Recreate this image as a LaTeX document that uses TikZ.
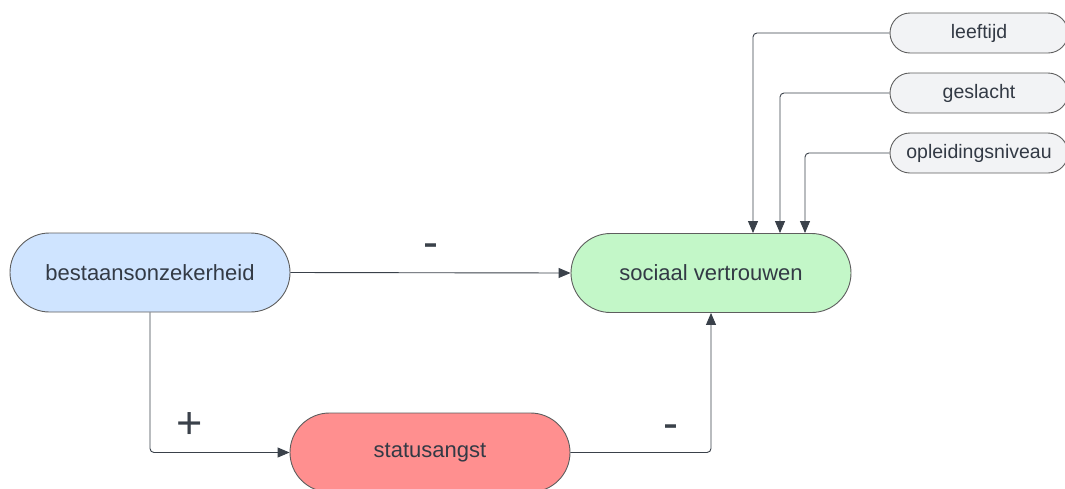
\documentclass[tikz,border=0pt]{standalone}
\usepackage{fontspec}
\setmainfont{Liberation Sans}
\usetikzlibrary{arrows.meta}
\definecolor{lijn}{HTML}{5E5E5E}
\definecolor{pijl}{HTML}{3A414A}
\definecolor{tekst}{HTML}{333A45}
\definecolor{blauw}{HTML}{CFE4FF}
\definecolor{groen}{HTML}{C3F7C8}
\definecolor{rood}{HTML}{FF8F8F}
\definecolor{grijs}{HTML}{F2F3F5}
\tikzset{>={Triangle[length=12pt,width=10pt]}}
\tikzset{
  pil/.style={draw=lijn, line width=0.9pt, text=tekst, minimum width=280pt, minimum height=79pt, rounded corners=39.5pt, font=\fontsize{22}{26}\selectfont},
  klein/.style={draw=lijn, line width=0.9pt, fill=grijs, text=tekst, minimum width=178pt, minimum height=40pt, rounded corners=20pt, font=\fontsize{19.5}{23}\selectfont},
  verb/.style={->, draw=pijl, line width=0.9pt, rounded corners=4pt},
  teken/.style={text=pijl, font=\fontsize{45}{50}\selectfont}
}

\begin{document}
\begin{tikzpicture}[x=1pt, y=-1pt]
\useasboundingbox (0,0) rectangle (1065,488);
\node[pil, fill=blauw] (B) at (150,272.5) {bestaansonzekerheid};
\node[pil, fill=groen] (S) at (711,273) {sociaal vertrouwen};
\node[pil, fill=rood] (A) at (430,452.5) {statusangst};
\node[klein] (L) at (979,33) {leeftijd};
\node[klein] (G) at (979,93) {geslacht};
\node[klein] (O) at (979,153) {opleidingsniveau};
\draw[verb] (B.east) -- (S.west);
\draw[verb] (B.south) |- (A.west);
\draw[verb] (A.east) -| (S.south);
\draw[verb] (L.west) -| ([xshift=42pt]S.north);
\draw[verb] (G.west) -| ([xshift=69pt]S.north);
\draw[verb] (O.west) -| ([xshift=94pt]S.north);
\node[teken] (m1) at (430.5,251) {-};
\node[teken] (p1) at (190,426) {+};
\node[teken] (m2) at (670.5,432) {-};
\end{tikzpicture}
\end{document}
